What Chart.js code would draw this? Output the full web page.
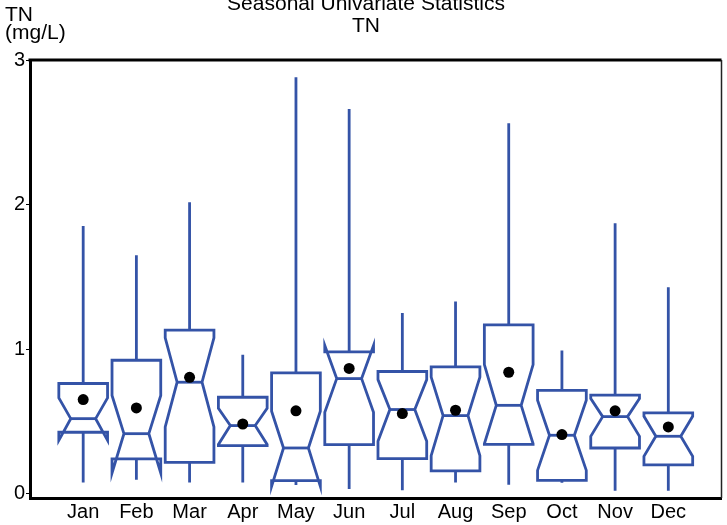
<!DOCTYPE html>
<html>
<head>
<meta charset="utf-8">
<script src="https://cdn.jsdelivr.net/npm/chart.js@4/dist/chart.umd.min.js"></script>
<style>
  html, body { margin: 0; padding: 0; background: #ffffff; }
  #wrap { width: 727px; height: 525px; position: relative; }
</style>
</head>
<body>
<div id="wrap"><canvas id="c" width="727" height="525"></canvas></div>
<script>
// ---- data ----
const months = ['Jan','Feb','Mar','Apr','May','Jun','Jul','Aug','Sep','Oct','Nov','Dec'];
const whiskerLow  = [0.078, 0.097, 0.078, 0.078, 0.060, 0.033, 0.023, 0.078, 0.062, 0.075, 0.021, 0.021];
const q1          = [0.425, 0.240, 0.217, 0.332, 0.090, 0.339, 0.242, 0.157, 0.341, 0.092, 0.316, 0.199];
const notchLow    = [0.369, 0.143, 0.462, 0.340, 0.051, 0.563, 0.362, 0.263, 0.345, 0.161, 0.397, 0.258];
const median      = [0.519, 0.415, 0.771, 0.471, 0.316, 0.796, 0.582, 0.540, 0.611, 0.404, 0.533, 0.397];
const notchHigh   = [0.663, 0.679, 1.078, 0.591, 0.570, 1.025, 0.789, 0.806, 0.893, 0.646, 0.658, 0.535];
const q3          = [0.762, 0.923, 1.131, 0.667, 0.836, 0.981, 0.845, 0.877, 1.168, 0.715, 0.681, 0.559];
const whiskerHigh = [1.852, 1.650, 2.016, 0.961, 2.880, 2.661, 1.249, 1.329, 2.562, 0.990, 1.871, 1.428];
const means       = [0.651, 0.593, 0.805, 0.482, 0.573, 0.866, 0.554, 0.577, 0.840, 0.409, 0.573, 0.462];
const yTicks = [0, 1, 2, 3];
const titleLines = ['Seasonal Univariate Statistics', 'TN'];
const yLabelLines = ['TN', '(mg/L)'];

// ---- styles ----
const FONT = '"Liberation Sans", Arial, Helvetica, sans-serif';
const BOX_COLOR = '#3453a7';
const BOX_HALF = 0.458;    // in x-axis units
const NOTCH_HALF = 0.234;  // in x-axis units

const boxPlugin = {
  id: 'notchedBoxes',
  beforeDatasetsDraw(chart) {
    const ctx = chart.ctx;
    const xs = chart.scales.x, ys = chart.scales.y;
    ctx.save();
    ctx.strokeStyle = BOX_COLOR;
    ctx.lineWidth = 2.8;
    ctx.lineJoin = 'miter';
    ctx.lineCap = 'butt';
    months.forEach((m, i) => {
      const c = i + 1;
      const xc = xs.getPixelForValue(c);
      const xl = xs.getPixelForValue(c - BOX_HALF);
      const xr = xs.getPixelForValue(c + BOX_HALF);
      const nl = xs.getPixelForValue(c - NOTCH_HALF);
      const nr = xs.getPixelForValue(c + NOTCH_HALF);
      const yQ1 = ys.getPixelForValue(q1[i]);
      const yQ3 = ys.getPixelForValue(q3[i]);
      const yMed = ys.getPixelForValue(median[i]);
      const yNL = ys.getPixelForValue(notchLow[i]);
      const yNH = ys.getPixelForValue(notchHigh[i]);
      const yWL = ys.getPixelForValue(whiskerLow[i]);
      const yWH = ys.getPixelForValue(whiskerHigh[i]);
      // whiskers
      ctx.beginPath();
      ctx.moveTo(xc, yQ3); ctx.lineTo(xc, yWH);
      ctx.moveTo(xc, yQ1); ctx.lineTo(xc, yWL);
      ctx.stroke();
      // notched box outline
      ctx.beginPath();
      ctx.moveTo(xl, yQ3);
      ctx.lineTo(xl, yNH);
      ctx.lineTo(nl, yMed);
      ctx.lineTo(xl, yNL);
      ctx.lineTo(xl, yQ1);
      ctx.lineTo(xr, yQ1);
      ctx.lineTo(xr, yNL);
      ctx.lineTo(nr, yMed);
      ctx.lineTo(xr, yNH);
      ctx.lineTo(xr, yQ3);
      ctx.closePath();
      ctx.stroke();
      // median line
      ctx.beginPath();
      ctx.moveTo(nl, yMed); ctx.lineTo(nr, yMed);
      ctx.stroke();
    });
    ctx.restore();
  },
  afterDraw(chart) {
    const ctx = chart.ctx;
    const a = chart.chartArea;
    ctx.save();
    // frame: top (thick) and right (thin)
    ctx.strokeStyle = '#000';
    ctx.lineWidth = 3;
    ctx.beginPath();
    ctx.moveTo(a.left - 1.5, a.top); ctx.lineTo(a.right, a.top);
    ctx.stroke();
    ctx.lineWidth = 1.5;
    ctx.strokeStyle = '#222';
    ctx.beginPath();
    ctx.moveTo(a.right, a.top); ctx.lineTo(a.right, a.bottom);
    ctx.stroke();
    // titles
    ctx.fillStyle = '#000';
    ctx.font = '21px ' + FONT;
    ctx.textAlign = 'center';
    ctx.textBaseline = 'alphabetic';
    ctx.fillText(titleLines[0], 366, 9.5);
    ctx.fillText(titleLines[1], 366, 32);
    // y-axis label
    ctx.textAlign = 'left';
    ctx.fillText(yLabelLines[0], 5, 21);
    ctx.fillText(yLabelLines[1], 5, 39);
    ctx.restore();
  }
};

new Chart(document.getElementById('c'), {
  type: 'scatter',
  data: {
    datasets: [{
      label: 'Mean',
      data: means.map((v, i) => ({ x: i + 1, y: v })),
      pointRadius: 5.5,
      pointHoverRadius: 5.5,
      pointBackgroundColor: '#000',
      pointBorderColor: '#000',
      pointBorderWidth: 0,
      showLine: false
    }]
  },
  options: {
    responsive: false,
    animation: false,
    devicePixelRatio: 1,
    layout: { padding: { top: 60, right: 1, left: 0, bottom: 0 } },
    plugins: {
      legend: { display: false },
      title: { display: false },
      tooltip: { enabled: false }
    },
    scales: {
      x: {
        type: 'linear',
        min: 0, max: 13,
        afterBuildTicks: (s) => { s.ticks = months.map((m, i) => ({ value: i + 1 })); },
        afterFit: (s) => { s.height = 27; },
        ticks: {
          callback: (v) => months[v - 1] || '',
          color: '#000',
          font: { family: FONT, size: 20 },
          padding: 2,
          maxRotation: 0,
          autoSkip: false
        },
        grid: { display: false, drawTicks: false },
        border: { display: true, color: '#000', width: 3 }
      },
      y: {
        type: 'linear',
        min: -0.03, max: 3,
        afterBuildTicks: (s) => { s.ticks = yTicks.map(v => ({ value: v })); },
        afterFit: (s) => { s.width = 30; },
        ticks: {
          callback: (v) => String(v),
          color: '#000',
          font: { family: FONT, size: 20 },
          padding: 1
        },
        grid: { display: true, drawOnChartArea: false, drawTicks: true, tickLength: 4, color: '#000', lineWidth: 1 },
        border: { display: true, color: '#000', width: 3 }
      }
    }
  },
  plugins: [boxPlugin]
});
</script>
</body>
</html>
